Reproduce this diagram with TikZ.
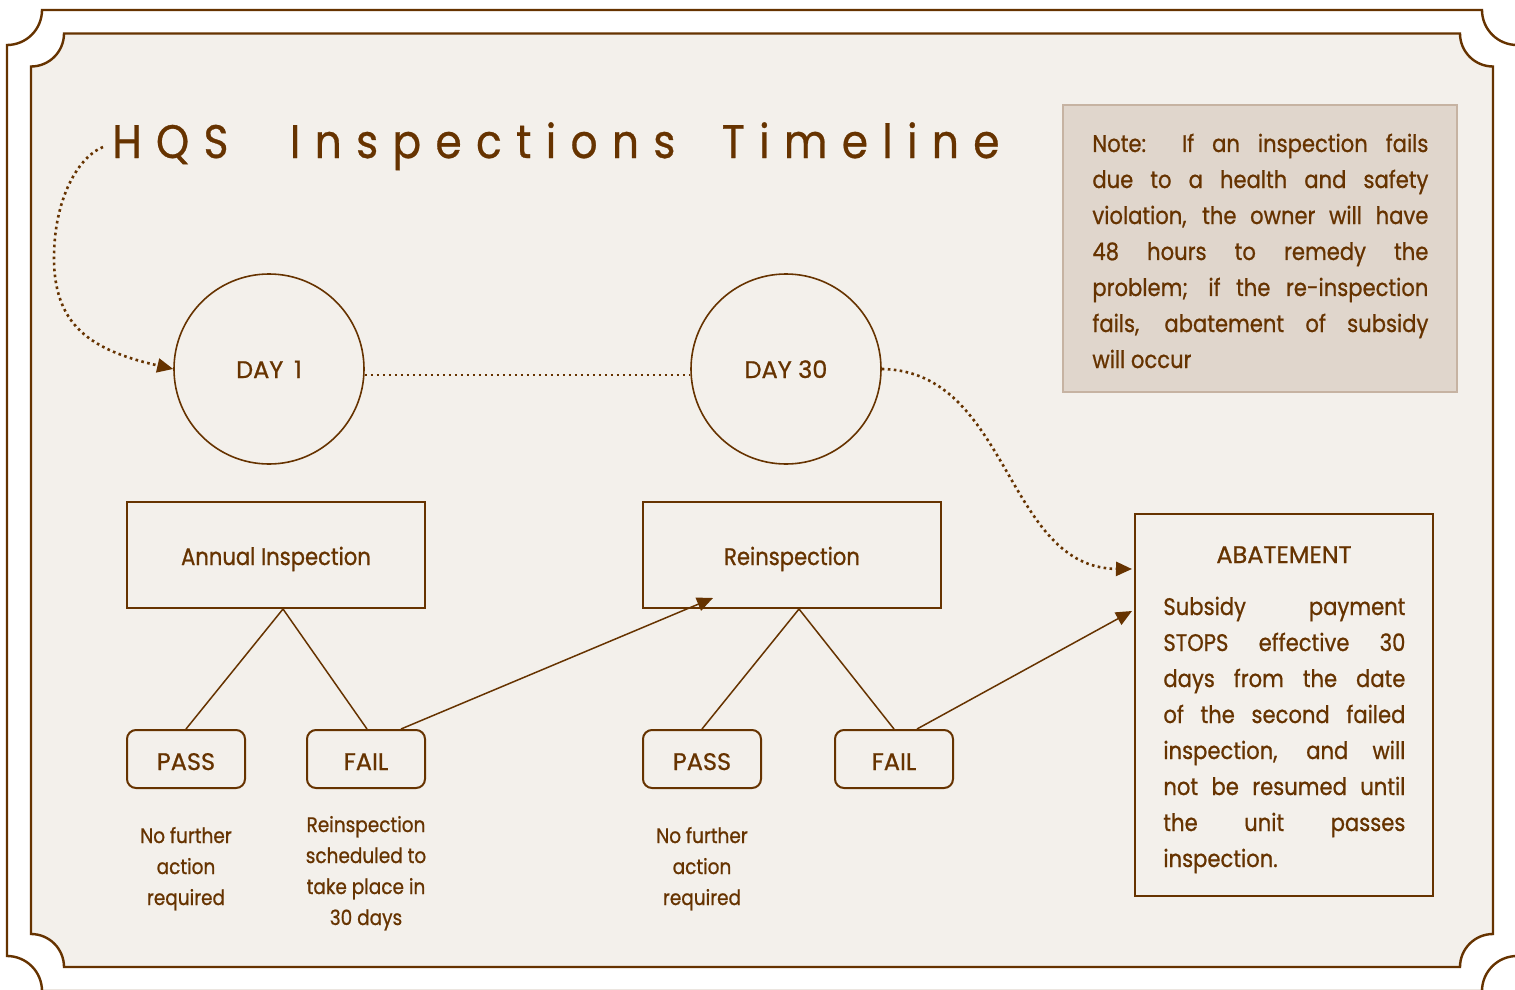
\documentclass[tikz,border=0pt]{standalone}
\usepackage{fontspec}
\setmainfont{Poppins}[FakeStretch=0.88,FakeBold=0.8]
\newfontfamily\capsfont{Poppins}[FakeStretch=1.0,FakeBold=0.8]
\newfontfamily\titlefont{Poppins}[FakeStretch=0.9,FakeBold=0.6,LetterSpace=30.5,WordSpace=2.4]
\usetikzlibrary{arrows.meta}
\definecolor{ink}{HTML}{663300}
\definecolor{paper}{HTML}{F3F0EB}
\definecolor{notefill}{HTML}{E0D6CC}
\definecolor{noteline}{HTML}{C6B3A2}
\newcommand{\jl}[2]{\makebox[#1][s]{#2}}
\tikzset{
  every node/.style={text=ink, inner sep=0pt},
  frame/.style={draw=ink, line width=1.2pt},
  conn/.style={draw=ink, line width=0.75pt},
  box/.style={draw=ink, line width=1pt, rectangle, minimum width=149pt, minimum height=53pt, text height=10pt, text depth=0pt, font=\fontsize{12pt}{14pt}\selectfont},
  btn/.style={draw=ink, line width=1pt, rounded corners=4.5pt, minimum width=59pt, minimum height=29pt, text height=11pt, text depth=0pt, font=\capsfont\fontsize{12pt}{14pt}\selectfont},
  daycirc/.style={draw=ink, line width=0.8pt, circle, minimum size=95pt, text height=9pt, text depth=0pt, font=\capsfont\fontsize{12pt}{14pt}\selectfont},
  dots/.style={draw=ink, line width=1.3pt, dash pattern=on 1.3pt off 1.7pt},
  tip/.style={-{Triangle[length=8pt,width=7pt]}},
  small/.style={font=\fontsize{10.5pt}{15.5pt}\selectfont},
}
\begin{document}
\begin{tikzpicture}[x=0.5pt,y=-0.5pt]
\useasboundingbox (0,0) rectangle (1515,990);
\clip (0,0) rectangle (1515,990);
\fill[white] (0,0) rectangle (1515,990);
% outer frame
\draw[frame] (42,10) -- (1482,10) arc[start angle=180,end angle=270,radius=17.5pt]
  -- (1517,956) arc[start angle=90,end angle=180,radius=17.5pt]
  -- (42,991) arc[start angle=0,end angle=90,radius=17.5pt]
  -- (7,45) arc[start angle=270,end angle=360,radius=17.5pt] -- cycle;
% inner frame
\draw[frame,fill=paper] (64,33.5) -- (1460,33.5) arc[start angle=180,end angle=270,radius=16.5pt]
  -- (1493,934) arc[start angle=90,end angle=180,radius=16.5pt]
  -- (64,967) arc[start angle=0,end angle=90,radius=16.5pt]
  -- (31,66.5) arc[start angle=270,end angle=360,radius=16.5pt] -- cycle;

% title
\node[anchor=base west] (title) at (112,158) {\titlefont\fontsize{23.5pt}{28pt}\selectfont HQS Inspections{\kern-7.5pt} Timeline};
\coordinate (tstart) at (103,147);

% note
\node[draw=noteline, line width=1pt, fill=notefill, minimum width=197pt, minimum height=143.5pt] (note) at (1260,248.5) {};
\node[anchor=base west] (notetext) at (1092,152) {\parbox[t]{168pt}{\fontsize{12pt}{18pt}\selectfont
\jl{168pt}{Note:\ \ If an inspection fails}\\
\jl{168pt}{due to a health and safety}\\
\jl{168pt}{violation, the owner will have}\\
\jl{168pt}{48 hours to remedy the}\\
\jl{168pt}{problem; if the re-inspection}\\
\jl{168pt}{fails, abatement of subsidy}\\
will occur}};

% circles
\node[daycirc] (d1) at (269,369) {DAY\hspace{0.45em}1};
\node[daycirc] (d30) at (786,369) {DAY 30};

% boxes
\node[box] (ann) at (276,555) {Annual Inspection};
\node[box] (rein) at (792,555) {Reinspection};
\node[draw=ink, line width=1pt, minimum width=149pt, minimum height=191pt] (abat) at (1284,705) {};
\node[anchor=base, font=\capsfont\fontsize{12pt}{14pt}\selectfont] (abtitle) at (1284,563) {ABATEMENT};
\node[anchor=base west] (abtext) at (1163,615) {\parbox[t]{121pt}{\fontsize{12pt}{18pt}\selectfont
\jl{121pt}{Subsidy payment}\\
\jl{121pt}{STOPS effective 30}\\
\jl{121pt}{days from the date}\\
\jl{121pt}{of the second failed}\\
\jl{121pt}{inspection, and will}\\
\jl{121pt}{not be resumed until}\\
\jl{121pt}{the unit passes}\\
inspection.}};

% buttons
\node[btn] (pass1) at (186,759) {PASS};
\node[btn] (fail1) at (366,759) {FAIL};
\node[btn] (pass2) at (702,759) {PASS};
\node[btn] (fail2) at (894,759) {FAIL};

% captions
\node[anchor=base, small] (cap1) at (186,843) {\parbox[t]{80pt}{\centering No further\\action\\required}};
\node[anchor=base, small] (cap2) at (366,832) {\parbox[t]{80pt}{\centering Reinspection\\scheduled to\\take place in\\30 days}};
\node[anchor=base, small] (cap3) at (702,843) {\parbox[t]{80pt}{\centering No further\\action\\required}};

% tree lines
\draw[conn] ([xshift=3.5pt]ann.south) -- (pass1.north);
\draw[conn] ([xshift=3.5pt]ann.south) -- ([xshift=0.5pt]fail1.north);
\draw[conn] ([xshift=3.5pt]rein.south) -- (pass2.north);
\draw[conn] ([xshift=3.5pt]rein.south) -- (fail2.north);

% arrows
\draw[conn,tip] ([xshift=17.5pt]fail1.north) -- ([xshift=-39.5pt,yshift=5.5pt]rein.south);
\draw[conn,tip] ([xshift=11.5pt]fail2.north) -- ([xshift=-1pt,yshift=47pt]abat.west);

% dotted connectors
\draw[dots] ([yshift=-3pt]d1.east) -- ([yshift=-3pt]d30.west);
\draw[dots,tip] (tstart) .. controls (80,156) and (55,195) .. (54,255)
   .. controls (53,325) and (90,350) .. (d1.west);
\draw[dots,tip] (d30.east) .. controls (1010,371) and (1005,568) .. ([xshift=-1pt,yshift=68pt]abat.west);
\end{tikzpicture}
\end{document}
